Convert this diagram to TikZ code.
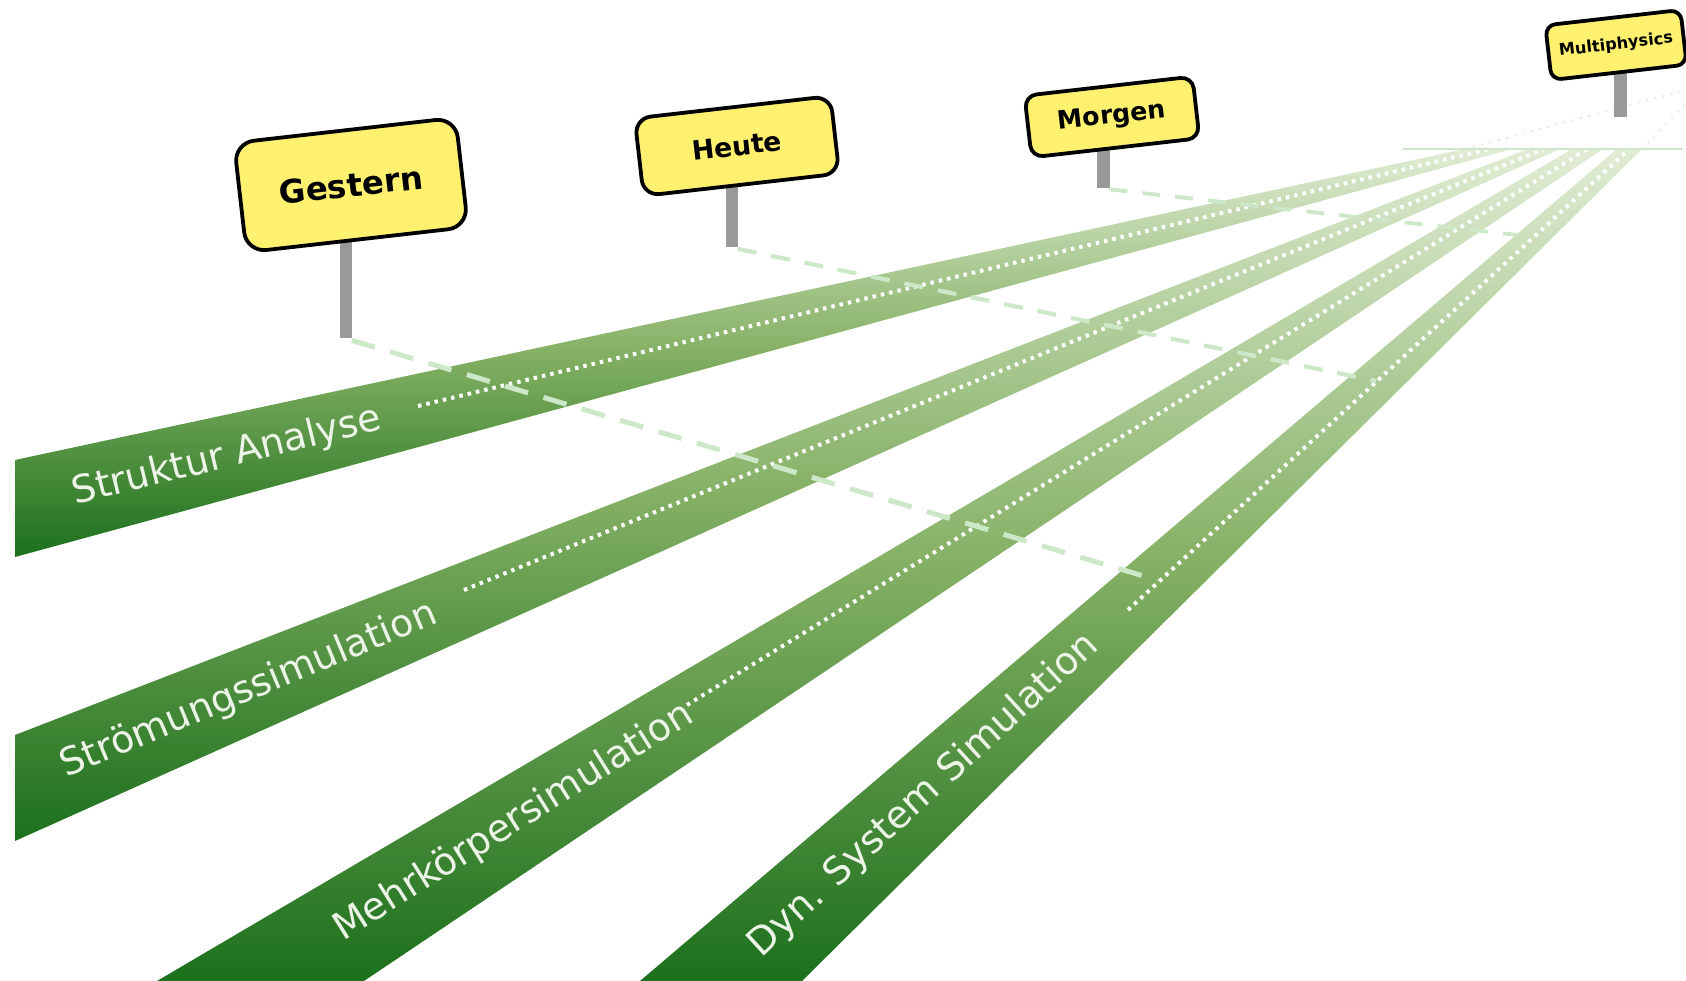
\documentclass[tikz,border=0pt]{standalone}
\usepackage{fontspec}
\setmainfont{DejaVu Sans}
\usepackage{xcolor}
\usepackage{tikz}

\definecolor{roaddark}{RGB}{28,112,28}
\definecolor{roadmid}{RGB}{132,176,100}
\definecolor{roadpale}{RGB}{224,236,212}
\definecolor{roadink}{RGB}{236,243,231}
\definecolor{signyellow}{RGB}{255,241,112}
\definecolor{trailgreen}{RGB}{204,232,200}
\definecolor{polegray}{RGB}{153,153,153}

\begin{document}
\begin{tikzpicture}[
	x=0.1mm, y=-0.1mm,
	road/.style={top color=roadpale, bottom color=roaddark, middle color=roadmid},
	lane/.style={white, line width=0.4mm, dash pattern=on 0.35mm off 0.5mm},
	roadtext/.style={sloped, text=roadink, inner sep=0pt, font=\fontsize{10.8}{12}\selectfont},
	sign/.style={draw=black, line width=0.38mm, fill=signyellow, rotate=6.5, inner sep=0pt},
	pole/.style={fill=polegray, minimum width=1.25mm, inner sep=0pt},
	trail/.style={trailgreen, line width=0.5mm, dash pattern=on 2.4mm off 1.6mm},
	horizon/.style={trailgreen, line width=0.2mm},
	ghost/.style={trailgreen, line width=0.15mm, dotted}
]
\useasboundingbox (0,0) rectangle (1686,981);

% centre lines of the four roads
\coordinate (s1n) at (15,508.5);  \coordinate (s1f) at (1488.5,149);
\coordinate (s2n) at (15,788);    \coordinate (s2f) at (1544,149);
\coordinate (s3n) at (260.5,981); \coordinate (s3f) at (1587.5,149);
\coordinate (s4n) at (721,981);   \coordinate (s4f) at (1629.5,149);

% roads
\shade[road] (15,460) -- (1465,149) -- (1512,149) -- (15,557) -- cycle;
\shade[road] (15,735) -- (1528,149) -- (1560,149) -- (15,841) -- cycle;
\shade[road] (157,981) -- (1572,149) -- (1603,149) -- (364,981) -- cycle;
\shade[road] (640,981) -- (1617,149) -- (1642,149) -- (802,981) -- cycle;

% lane markings
\coordinate (l1) at (418,406);  \draw[lane] (l1) -- (s1f);
\coordinate (l2) at (464,590);  \draw[lane] (l2) -- (s2f);
\coordinate (l3) at (687,705);  \draw[lane] (l3) -- (s3f);
\coordinate (l4) at (1128,610); \draw[lane] (l4) -- (s4f);

\path (s1n) -- (s1f) node[roadtext, pos=0.144] (struktur) {Struktur Analyse};
\path (s2n) -- (s2f) node[roadtext, pos=0.153] (stroemung) {Strömungssimulation};
\path (s3n) -- (s3f) node[roadtext, pos=0.191] (mehrkoerper) {Mehrkörpersimulation};
\path (s4n) -- (s4f) node[roadtext, pos=0.223] (dynsys) {Dyn. System Simulation};

% horizon and vanishing edges
\coordinate (hl) at (1403,149); \coordinate (hr) at (1683,149);
\draw[horizon] (hl) -- (hr);
\coordinate (g1) at (1686,90);  \draw[ghost] (1465,149) -- (g1);
\coordinate (g4) at (1686,103); \draw[ghost] (1642,149) -- (g4);

% poles
\node[pole, minimum height=13.8mm] (gpole) at (346,269) {};
\node[pole, minimum height=7.7mm] (hpole) at (732,208.5) {};
\node[pole, minimum height=5.8mm] (mpole) at (1103.5,159) {};
\node[pole, minimum height=6.2mm] (xpole) at (1620.5,86) {};

% time lines
\coordinate (gend) at (1157,580);
\coordinate (hend) at (1376,381);
\coordinate (mend) at (1517,235);
\draw[trail, shorten <=0.6mm] (gpole.south) -- (gend);
\draw[trail, line width=0.42mm, dash pattern=on 1.9mm off 1.5mm, shorten <=0.6mm] (hpole.south) -- (hend);
\draw[trail, line width=0.38mm, dash pattern=on 1.8mm off 1.5mm, shorten <=0.6mm] (mpole.south) -- (mend);

% signs
\node[sign, minimum width=22.3mm, minimum height=11mm, rounded corners=2mm,
	font=\bfseries\fontsize{9.2}{10}\selectfont] (gestern) at (351,185) {Gestern};
\node[sign, minimum width=19.7mm, minimum height=7.8mm, rounded corners=1.6mm,
	font=\bfseries\fontsize{7.6}{9}\selectfont] (heute) at (737,146) {Heute};
\node[sign, minimum width=16.9mm, minimum height=6.2mm, rounded corners=1.2mm,
	font=\bfseries\fontsize{7.2}{8}\selectfont] (morgen) at (1112,117) {Morgen};
\node[sign, minimum width=13.6mm, minimum height=5.5mm, rounded corners=1mm,
	font=\bfseries\fontsize{4.6}{5}\selectfont] (multi) at (1616,45) {Multiphysics};

\end{tikzpicture}
\end{document}
